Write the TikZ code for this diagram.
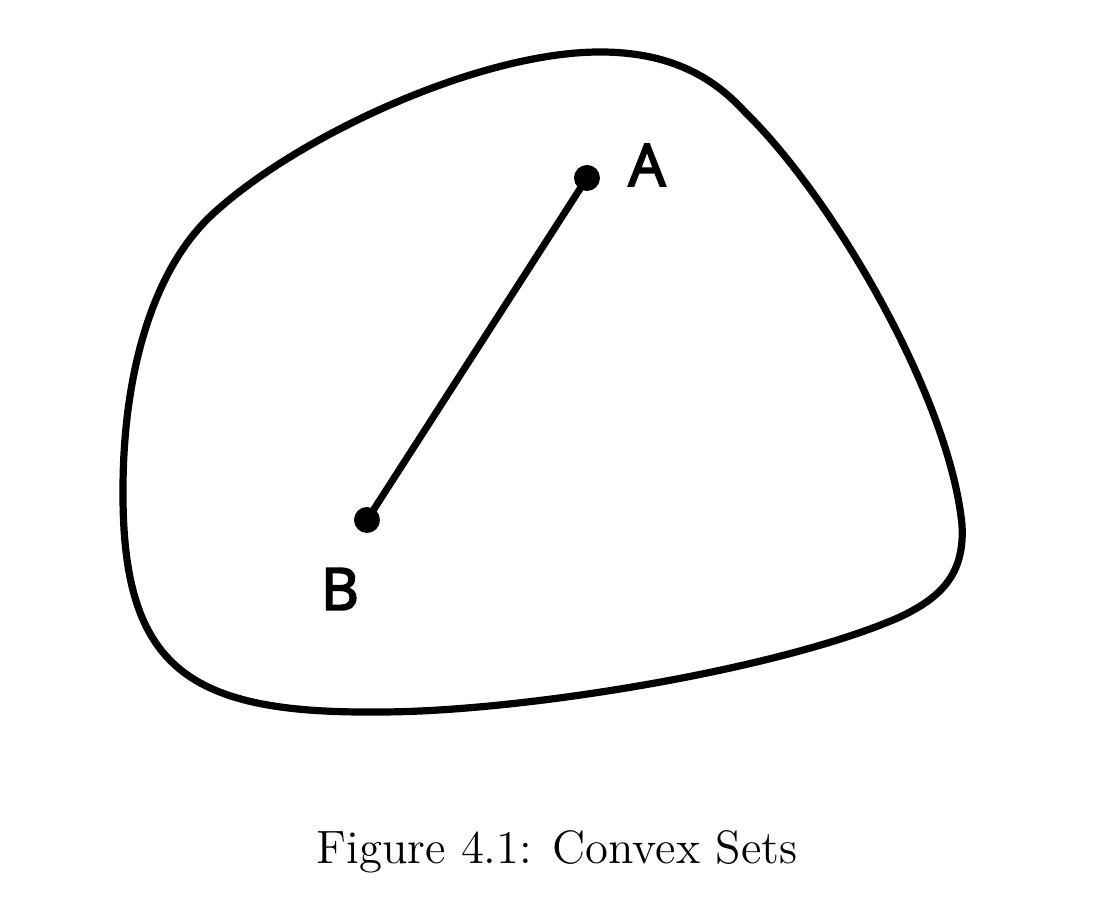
\documentclass[tikz,border=0pt]{standalone}
\usepackage{fontspec}
\newfontfamily\labelfont[FakeBold=3.5]{Open Sans}
\begin{document}
\begin{tikzpicture}[x=0.25pt,y=-0.25pt,
  outline/.style={line width=1.8pt,line join=round},
  seg/.style={line width=1.75pt},
  pt/.style={circle,fill=black,inner sep=0pt,minimum size=6.5pt},
  lbl/.style={font=\labelfont\fontsize{14.5}{16}\selectfont,inner sep=0pt},
  captext/.style={font=\fontsize{11.7}{14}\selectfont,inner sep=0pt}]
\useasboundingbox (0,0) rectangle (1097,906);
\draw[outline] (600,52)
  .. controls (680,52) and (720,85) .. (745,112)
  .. controls (835,200) and (950,400) .. (962,525)
  .. controls (965,575) and (940,598) .. (900,617)
  .. controls (780,670) and (520,712) .. (380,712)
  .. controls (190,714) and (122,670) .. (123,490)
  .. controls (123,380) and (150,270) .. (215,212)
  .. controls (300,135) and (480,52) .. cycle;
\node[pt] (A) at (587,178) {};
\node[pt] (B) at (367,520) {};
\draw[seg] (A.center) -- (B.center);
\node[lbl] (la) at (647,165) {A};
\node[lbl] (lb) at (340,589) {B};
\node[captext] (c) at (557,852) {Figure 4.1: Convex Sets};
\end{tikzpicture}
\end{document}
